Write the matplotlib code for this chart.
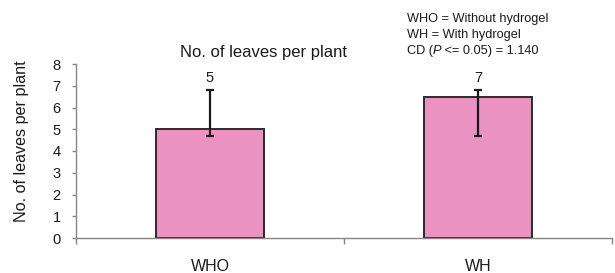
import matplotlib
matplotlib.use('Agg')
import matplotlib.pyplot as plt
import numpy as np

plt.rcParams['font.family'] = ['Liberation Sans', 'DejaVu Sans']

# ── DATA ─────────────────────────────────────────────────────
treatments = ['WHO', 'WH']
leaves     = [5.0, 6.5]
err_low    = [0.3, 1.8]
err_high   = [1.8, 0.3]
bar_labels = ['5', '7']
y_ticks    = [0, 1, 2, 3, 4, 5, 6, 7, 8]
notes      = ['WHO = Without hydrogel', 'WH = With hydrogel']
cd_parts   = [('CD (', 'normal'), ('P', 'italic'), (' <= 0.05) = 1.140', 'normal')]

# ── STYLE ────────────────────────────────────────────────────
BAR_C  = '#EA93C3'
EDGE_C = '#2b2b2b'
AXIS_C = '#8a8580'
TEXT_C = '#1a1a1a'

fig = plt.figure(figsize=(6.15, 2.73), dpi=100)
ax = fig.add_axes([76/615, 35/273, 536/615, 174/273])

x = np.arange(len(treatments))
ax.bar(x, leaves, 0.40, color=BAR_C, edgecolor=EDGE_C, linewidth=1.4, zorder=2)
ax.errorbar(x, leaves, yerr=[err_low, err_high], fmt='none', ecolor='#1a1a1a',
            elinewidth=1.6, capsize=3, capthick=1.6, zorder=3)

for i in range(len(x)):
    ax.annotate(bar_labels[i], (x[i], leaves[i] + err_high[i]),
                textcoords='offset points', xytext=(0, 4), ha='center',
                va='bottom', fontsize=10.5, color=TEXT_C)

ax.set_xlim(-0.5, 1.5)
ax.set_ylim(0, 8)
ax.set_yticks(y_ticks)
ax.set_xticks(x)
ax.set_xticklabels(treatments)
ax.set_xticks([-0.5, 0.5, 1.5], minor=True)

for s in ['top', 'right']:
    ax.spines[s].set_visible(False)
for s in ['left', 'bottom']:
    ax.spines[s].set_color(AXIS_C)
    ax.spines[s].set_linewidth(1.0)

ax.tick_params(axis='y', direction='out', length=3, width=1, color=AXIS_C,
               labelsize=10.5, labelcolor=TEXT_C, pad=8)
ax.tick_params(axis='x', which='major', length=0, labelsize=11.5,
               labelcolor=TEXT_C, pad=15)
ax.tick_params(axis='x', which='minor', direction='out', length=4, width=1,
               color=AXIS_C)

fig.text(22/615, 1 - 141/273, 'No. of leaves per plant', rotation=90,
         ha='center', va='center', fontsize=11.6, color=TEXT_C)
fig.text(263/615, 1 - 52/273, 'No. of leaves per plant', ha='center',
         va='center', fontsize=12, color=TEXT_C)

# note block, top right
for k, line in enumerate(notes):
    fig.text(407/615, 1 - (22 + 16 * k)/273, line, ha='left', va='baseline',
             fontsize=9.2, color=TEXT_C)

renderer = fig.canvas.get_renderer()
xpos = 407/615
for txt, style in cd_parts:
    t = fig.text(xpos, 1 - 54/273, txt, ha='left', va='baseline',
                 fontsize=9.2, style=style, color=TEXT_C)
    xpos += t.get_window_extent(renderer).width / fig.bbox.width

plt.savefig('out.png', dpi=100, facecolor='white')
